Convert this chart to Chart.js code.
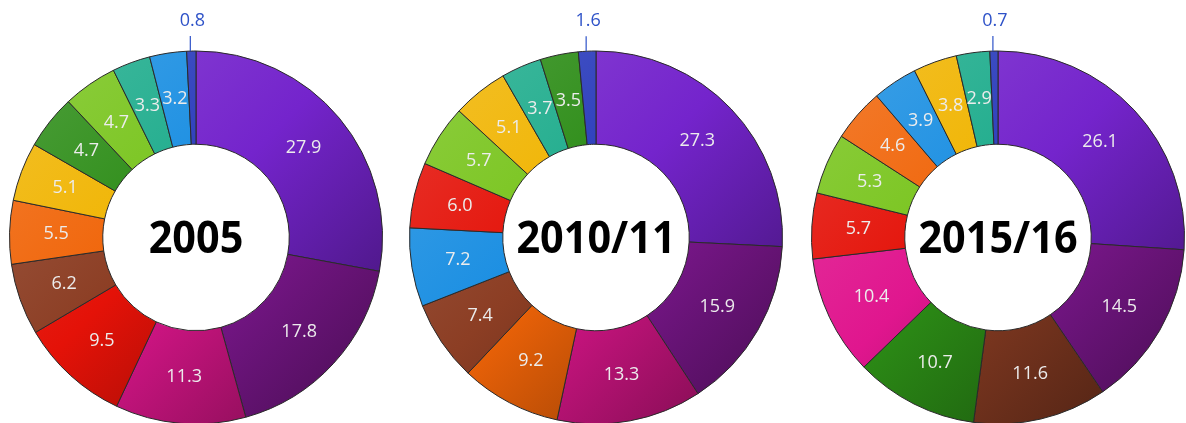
<!DOCTYPE html>
<html><head><meta charset="utf-8">
<script src="https://cdn.jsdelivr.net/npm/chart.js@4"></script>
<style>
html,body{margin:0;padding:0;background:#fff;width:1186px;height:423px;overflow:hidden;position:relative}
canvas{position:absolute;top:0}
</style></head><body>
<canvas id="c1" width="400" height="423" style="left:-4px"></canvas>
<canvas id="c2" width="400" height="423" style="left:396px"></canvas>
<canvas id="c3" width="400" height="423" style="left:798px"></canvas>
<script>
// ---- data ----
const titles = ['2005', '2010/11', '2015/16'];
const values2005 = [27.9, 17.8, 11.3, 9.5, 6.2, 5.5, 5.1, 4.7, 4.7, 3.3, 3.2, 0.8];
const values2010 = [27.3, 15.9, 13.3, 9.2, 7.4, 7.2, 6.0, 5.7, 5.1, 3.7, 3.5, 1.6];
const values2015 = [26.1, 14.5, 11.6, 10.7, 10.4, 5.7, 5.3, 4.6, 3.9, 3.8, 2.9, 0.7];
const colorKeys2005 = ['purple','violet','magenta','red','brown','orange','yellow','dkgreen','ltgreen','teal','blue','navy'];
const colorKeys2010 = ['purple','violet','magenta','orange','brown','blue','red','ltgreen','yellow','teal','dkgreen','navy'];
const colorKeys2015 = ['purple','violet','brown','dkgreen','magenta','red','ltgreen','orange','blue','yellow','teal','navy'];

// ---- styles ----
const palette = {
  purple: '#7424cc', violet: '#8a1a9e', magenta: '#e0168e', red: '#e41208',
  brown: '#8c3e24', orange: '#f06408', yellow: '#f0b400', dkgreen: '#2c8c16',
  ltgreen: '#78c41c', teal: '#1eac8c', blue: '#1a8ee2', navy: '#2a3cbc'
};
function mix(hex, target, t) {
  const n = parseInt(hex.slice(1), 16);
  const r = (n >> 16) & 255, g = (n >> 8) & 255, b = n & 255;
  const m = c => Math.round(c + (target - c) * t);
  return 'rgb(' + m(r) + ',' + m(g) + ',' + m(b) + ')';
}
function shadedFor(keys) {
  return function (context) {
    const hex = palette[keys[context.dataIndex]];
    const chart = context.chart;
    const area = chart.chartArea;
    if (!area) return hex;
    const cx = (area.left + area.right) / 2, cy = (area.top + area.bottom) / 2, R = 186;
    const g = chart.ctx.createLinearGradient(cx - R * 0.75, cy - R * 0.75, cx + R * 0.75, cy + R * 0.75);
    g.addColorStop(0, mix(hex, 255, 0.12));
    g.addColorStop(0.45, hex);
    g.addColorStop(1, mix(hex, 0, 0.38));
    return g;
  };
}

const labelPlugin = {
  id: 'sliceLabels',
  afterDatasetsDraw(chart) {
    const ctx = chart.ctx;
    const meta = chart.getDatasetMeta(0);
    const data = chart.data.datasets[0].data;
    const total = data.reduce((a, b) => a + b, 0);
    ctx.save();
    ctx.textAlign = 'center';
    ctx.textBaseline = 'middle';
    meta.data.forEach((arc, i) => {
      const text = data[i].toFixed(1);
      if (data[i] / total < 0.02) {
        const mid = (arc.startAngle + arc.endAngle) / 2;
        const x = arc.x + Math.cos(mid) * arc.outerRadius;
        const y = arc.y + Math.sin(mid) * arc.outerRadius;
        ctx.strokeStyle = '#2e52c8';
        ctx.lineWidth = 1.2;
        ctx.beginPath();
        ctx.moveTo(x - 1, y);
        ctx.lineTo(x - 1, y - 15);
        ctx.stroke();
        ctx.fillStyle = '#2e52c8';
        ctx.font = '18px "Open Sans"';
        ctx.fillText(text, x + 1, y - 30);
      } else {
        const p = arc.tooltipPosition();
        ctx.fillStyle = '#ececec';
        ctx.font = '18px "Open Sans"';
        ctx.fillText(text, p.x, p.y);
      }
    });
    const a0 = meta.data[0];
    ctx.fillStyle = '#000';
    ctx.font = 'bold 45px "Open Sans"';
    ctx.translate(a0.x, a0.y + 3);
    ctx.scale(0.92, 1);
    ctx.fillText(chart.options.plugins.centerTitle.text, 0, 0);
    ctx.restore();
  }
};

function makeChart(id, values, keys, title) {
  return new Chart(document.getElementById(id), {
    type: 'doughnut',
    data: {
      labels: values.map(v => v.toFixed(1)),
      datasets: [{
        data: values,
        backgroundColor: shadedFor(keys),
        borderColor: '#2a2a2a',
        borderWidth: 1
      }]
    },
    options: {
      responsive: false,
      animation: false,
      radius: 186.5,
      cutout: '50%',
      rotation: 0,
      layout: { padding: { top: 52, bottom: 0, left: 0, right: 0 } },
      plugins: {
        legend: { display: false },
        tooltip: { enabled: false },
        centerTitle: { text: title }
      }
    },
    plugins: [labelPlugin]
  });
}
makeChart('c1', values2005, colorKeys2005, titles[0]);
makeChart('c2', values2010, colorKeys2010, titles[1]);
makeChart('c3', values2015, colorKeys2015, titles[2]);
</script>
</body></html>
